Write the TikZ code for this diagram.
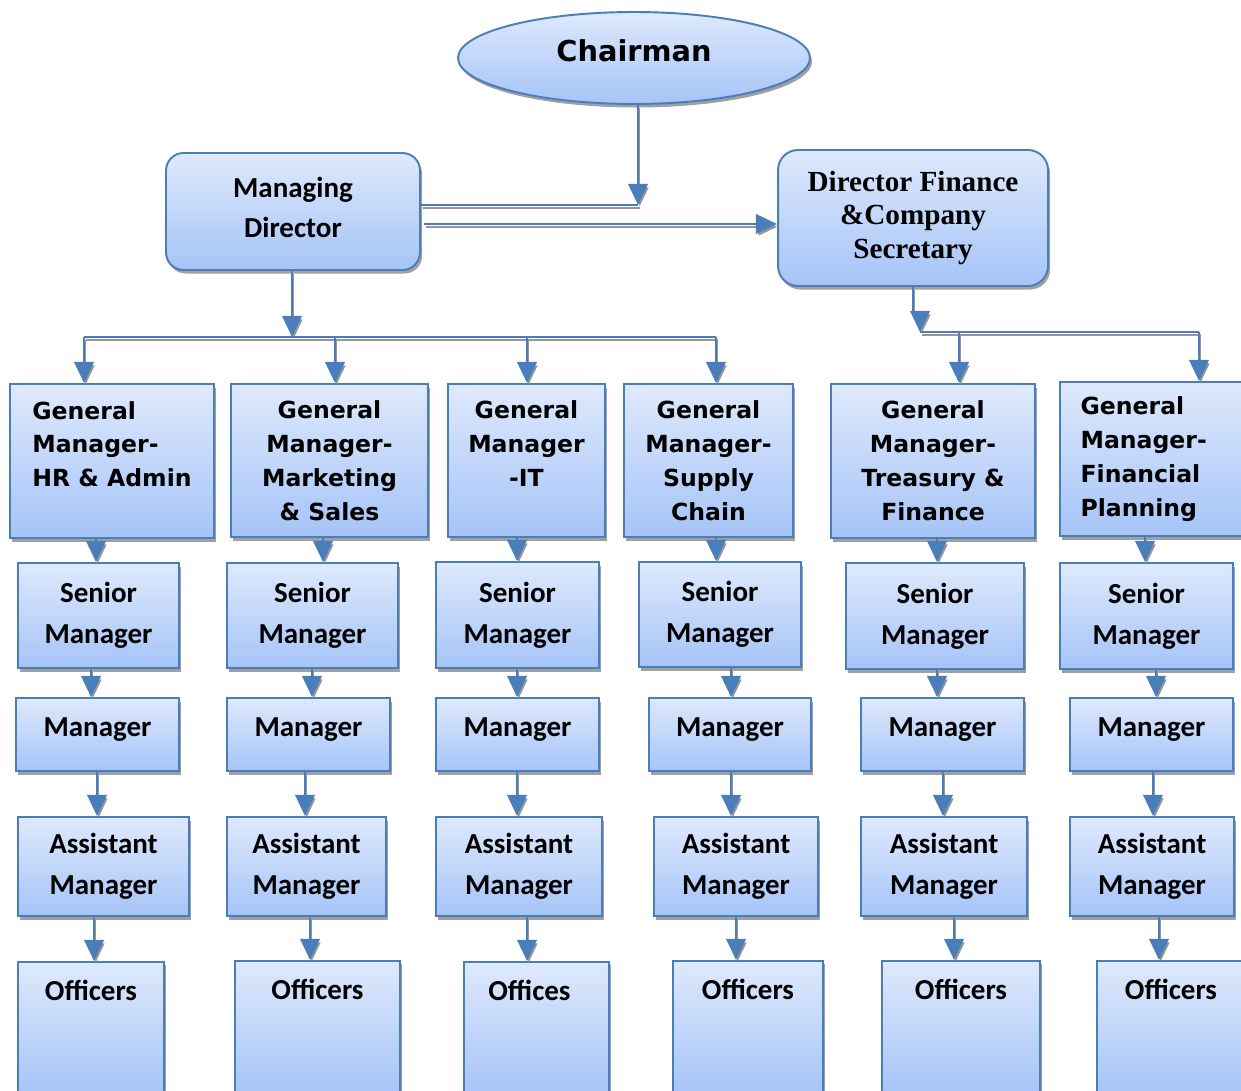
\documentclass[tikz,border=0pt]{standalone}
\usepackage{fontspec}
\setmainfont{Carlito}
\newfontfamily\verdanafont{DejaVu Sans}
\newfontfamily\romanfont{Liberation Serif}
\usetikzlibrary{shapes.geometric,shadows,arrows.meta}
\definecolor{boxline}{RGB}{74,126,187}
\definecolor{boxtop}{RGB}{222,233,252}
\definecolor{boxbot}{RGB}{165,196,247}
\definecolor{shadowgray}{RGB}{150,150,150}

\begin{document}
\begin{tikzpicture}
	[x=0.02cm, y=-0.02cm, thick,
	box/.style={draw=boxline, line width=1.1pt, top color=boxtop, bottom color=boxbot, inner sep=0pt, align=center,
		drop shadow={shadow xshift=1.2pt, shadow yshift=-2pt, fill=shadowgray, opacity=0.9}},
	calbox/.style={box, font=\bfseries\fontsize{16.5}{23.3}\selectfont},
	mgrbox/.style={calbox, minimum height=1.46cm, text depth=8pt},
	gmbox/.style={box, font=\verdanafont\bfseries\fontsize{13.4}{19.3}\selectfont},
	officebox/.style={calbox, anchor=north, text height=0.78cm, text depth=1.9cm},
	conn/.style={draw=boxline, line width=1.6pt,
		preaction={draw=shadowgray, transform canvas={xshift=1pt, yshift=-1.6pt}}},
	arr/.style={conn, -{Triangle[width=11pt,length=12pt]}}]
	\useasboundingbox (0,0) rectangle (1241,1091);

	% top
	\node[box, ellipse, minimum width=7.04cm, minimum height=1.84cm, text depth=9pt, font=\verdanafont\bfseries\fontsize{16.4}{20}\selectfont] (chair) at (634,58) {Chairman};
	\node[calbox, rounded corners=0.35cm, minimum width=5.08cm, minimum height=2.34cm, text depth=5pt, font=\bfseries\fontsize{16.5}{22.7}\selectfont] (md) at (293,211.5) {Managing\\Director};
	\node[box, rounded corners=0.4cm, minimum width=5.4cm, minimum height=2.72cm, font=\romanfont\bfseries\fontsize{16.6}{19.3}\selectfont] (df) at (913,218) {Director Finance\\\&Company\\Secretary};

	% general managers
	\node[gmbox, align=left, minimum width=4.08cm, minimum height=3.08cm] (hr) at (112,461) {General\\Manager-\\HR \& Admin\\\mbox{}};
	\node[gmbox, minimum width=3.94cm, minimum height=3.06cm] (mkt) at (329.5,460.5) {General\\Manager-\\Marketing\\\& Sales};
	\node[gmbox, minimum width=3.14cm, minimum height=3.06cm] (it) at (526.5,460.5) {General\\Manager\\-IT\\\mbox{}};
	\node[gmbox, minimum width=3.38cm, minimum height=3.06cm] (sc) at (708.5,460.5) {General\\Manager-\\Supply\\Chain};
	\node[gmbox, minimum width=4.08cm, minimum height=3.08cm] (tf) at (933,461) {General\\Manager-\\Treasury \&\\Finance};
	\node[gmbox, align=left, minimum width=3.7cm, minimum height=3.08cm] (fp) at (1152.5,459) {General\\Manager-\makebox[10pt]{}\\Financial\\Planning};

	% senior managers
	\node[calbox, minimum width=3.22cm, minimum height=2.1cm] (sm1) at (98.5,615.5) {Senior\\Manager};
	\node[calbox, minimum width=3.42cm, minimum height=2.1cm] (sm2) at (312.5,615.5) {Senior\\Manager};
	\node[calbox, minimum width=3.26cm, minimum height=2.12cm] (sm3) at (517.5,615) {Senior\\Manager};
	\node[calbox, minimum width=3.24cm, minimum height=2.1cm] (sm4) at (720,614.5) {Senior\\Manager};
	\node[calbox, minimum width=3.56cm, minimum height=2.12cm] (sm5) at (935,616) {Senior\\Manager};
	\node[calbox, minimum width=3.46cm, minimum height=2.12cm] (sm6) at (1146.5,616) {Senior\\Manager};

	% managers
	\node[mgrbox, minimum width=3.26cm] (m1) at (97.5,734.5) {Manager};
	\node[mgrbox, minimum width=3.26cm] (m2) at (308.5,734.5) {Manager};
	\node[mgrbox, minimum width=3.26cm] (m3) at (517.5,734.5) {Manager};
	\node[mgrbox, minimum width=3.24cm] (m4) at (730,734.5) {Manager};
	\node[mgrbox, minimum width=3.26cm] (m5) at (942.5,734.5) {Manager};
	\node[mgrbox, minimum width=3.26cm] (m6) at (1151.5,734.5) {Manager};

	% assistant managers
	\node[calbox, minimum width=3.42cm, minimum height=1.98cm] (a1) at (103.5,866.5) {Assistant\\Manager};
	\node[calbox, minimum width=3.18cm, minimum height=1.98cm] (a2) at (306.5,866.5) {Assistant\\Manager};
	\node[calbox, minimum width=3.32cm, minimum height=1.98cm] (a3) at (519,866.5) {Assistant\\Manager};
	\node[calbox, minimum width=3.28cm, minimum height=1.98cm] (a4) at (736,866.5) {Assistant\\Manager};
	\node[calbox, minimum width=3.32cm, minimum height=1.98cm] (a5) at (944,866.5) {Assistant\\Manager};
	\node[calbox, minimum width=3.28cm, minimum height=1.98cm] (a6) at (1152,866.5) {Assistant\\Manager};

	% officers
	\node[officebox, minimum width=2.92cm] (o1) at (91,961) {Officers};
	\node[officebox, minimum width=3.3cm] (o2) at (317.5,960) {Officers};
	\node[officebox, minimum width=2.9cm] (o3) at (536.5,961) {Offices\makebox[8pt]{}};
	\node[officebox, minimum width=3.0cm] (o4) at (748,960) {Officers};
	\node[officebox, minimum width=3.16cm] (o5) at (961,960) {Officers};
	\node[officebox, minimum width=2.96cm] (o6) at (1171,960) {Officers};

	% top links
	\coordinate (cj) at (638,205);
	\coordinate (dj) at (424,224);
	\coordinate (mdbus) at (292,337);
	\coordinate (dfbus) at (920,332);
	\draw[conn] (md.east |- cj) -- (cj);
	\draw[arr] (chair.south -| cj) -- (cj);
	\draw[arr] (dj) -- (dj -| df.west);

	\draw[arr] (md.south -| mdbus) -- (mdbus);
	\draw[conn] (84,337) -- (716,337);
	\draw[arr] (84,337) -- (hr.north -| 84,0);
	\draw[arr] (335,337) -- (mkt.north -| 335,0);
	\draw[arr] (527,337) -- (it.north -| 527,0);
	\draw[arr] (716,337) -- (sc.north -| 716,0);

	\draw[arr] (df.south) |- (920,313) -- (dfbus);
	\draw[conn] (dfbus) -- (1199,332);
	\draw[arr] (959,332) -- (tf.north -| 959,0);
	\draw[arr] (1199,332) -- (fp.north -| 1199,0);

	% columns
	\draw[arr] (hr.south -| 96,0) -- (sm1.north -| 96,0);
	\draw[arr] (mkt.south -| 323,0) -- (sm2.north -| 323,0);
	\draw[arr] (it.south -| 517,0) -- (sm3.north -| 517,0);
	\draw[arr] (sc.south -| 716,0) -- (sm4.north -| 716,0);
	\draw[arr] (tf.south -| 937,0) -- (sm5.north -| 937,0);
	\draw[arr] (fp.south -| 1145,0) -- (sm6.north -| 1145,0);

	\draw[arr] (sm1.south -| 91,0) -- (m1.north -| 91,0);
	\draw[arr] (sm2.south -| 312,0) -- (m2.north -| 312,0);
	\draw[arr] (sm3.south -| 517,0) -- (m3.north -| 517,0);
	\draw[arr] (sm4.south -| 731,0) -- (m4.north -| 731,0);
	\draw[arr] (sm5.south -| 937,0) -- (m5.north -| 937,0);
	\draw[arr] (sm6.south -| 1156,0) -- (m6.north -| 1156,0);

	\draw[arr] (m1.south -| 97,0) -- (a1.north -| 97,0);
	\draw[arr] (m2.south -| 305,0) -- (a2.north -| 305,0);
	\draw[arr] (m3.south -| 517,0) -- (a3.north -| 517,0);
	\draw[arr] (m4.south -| 731,0) -- (a4.north -| 731,0);
	\draw[arr] (m5.south -| 943,0) -- (a5.north -| 943,0);
	\draw[arr] (m6.south -| 1153,0) -- (a6.north -| 1153,0);

	\draw[arr] (a1.south -| 94,0) -- (o1.north -| 94,0);
	\draw[arr] (a2.south -| 310,0) -- (o2.north -| 310,0);
	\draw[arr] (a3.south -| 527,0) -- (o3.north -| 527,0);
	\draw[arr] (a4.south -| 736,0) -- (o4.north -| 736,0);
	\draw[arr] (a5.south -| 954,0) -- (o5.north -| 954,0);
	\draw[arr] (a6.south -| 1159,0) -- (o6.north -| 1159,0);
\end{tikzpicture}
\end{document}
